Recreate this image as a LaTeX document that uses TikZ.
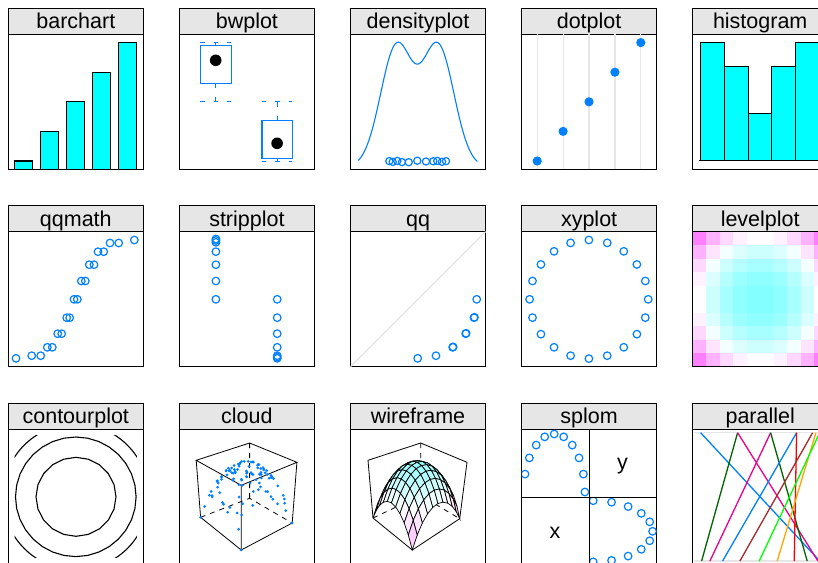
\documentclass[tikz,border=0pt]{standalone}
\usepackage{fontspec}
\setmainfont{Liberation Sans}
\usetikzlibrary{positioning}

\definecolor{stripbg}{HTML}{E6E6E6}
\definecolor{ptblue}{HTML}{0080FF}
\definecolor{barcyan}{HTML}{00FFFF}
\definecolor{refgray}{HTML}{E6E6E6}
\definecolor{dkgreen}{HTML}{006400}
\definecolor{brn}{HTML}{A52A2A}
\definecolor{orng}{HTML}{FFA500}
\definecolor{grn}{HTML}{00FF00}

% box corners: bottom a (left), b (back), c (right), d (front); top A B C D
\newcommand\boxlow[8]{\def\qax{#1}\def\qay{#2}\def\qbx{#3}\def\qby{#4}\def\qcx{#5}\def\qcy{#6}\def\qdx{#7}\def\qdy{#8}}
\newcommand\boxhigh[8]{\def\Qax{#1}\def\Qay{#2}\def\Qbx{#3}\def\Qby{#4}\def\Qcx{#5}\def\Qcy{#6}\def\Qdx{#7}\def\Qdy{#8}}
\newcommand\boxpt[3]{%
  \pgfmathsetmacro\px{(1-#3)*((1-#1)*(1-#2)*\qax+#1*(1-#2)*\qdx+(1-#1)*#2*\qbx+#1*#2*\qcx)+#3*((1-#1)*(1-#2)*\Qax+#1*(1-#2)*\Qdx+(1-#1)*#2*\Qbx+#1*#2*\Qcx)}%
  \pgfmathsetmacro\py{(1-#3)*((1-#1)*(1-#2)*\qay+#1*(1-#2)*\qdy+(1-#1)*#2*\qby+#1*#2*\qcy)+#3*((1-#1)*(1-#2)*\Qay+#1*(1-#2)*\Qdy+(1-#1)*#2*\Qby+#1*#2*\Qcy)}}
% point on the dome z = 1-(x^2+y^2)/2
\newcommand\domept[2]{%
  \pgfmathsetmacro\dw{1-((2*#1-1)*(2*#1-1)+(2*#2-1)*(2*#2-1))/2}%
  \boxpt{#1}{#2}{\dw}}

\tikzset{
  strip/.style={draw, fill=stripbg, line width=1.1pt, minimum width=135pt, minimum height=26pt,
    text height=17pt, text depth=2pt, inner sep=0pt, outer sep=0pt,
    font=\fontsize{21.5pt}{24pt}\selectfont},
  pbox/.style={draw, line width=1.1pt, minimum width=135pt, minimum height=135pt,
    inner sep=0pt, outer sep=0pt},
  frm/.style={line width=1.1pt},
  bar/.style={draw=black, fill=barcyan, line width=1.1pt},
  ring/.style={draw=ptblue, line width=1.2pt},
  whisk/.style={ptblue, line width=1.1pt, dash pattern=on 4.5pt off 9pt},
  cline/.style={line width=1.1pt},
  edge/.style={line width=0.8pt},
  hidden/.style={line width=0.8pt, dash pattern=on 5pt off 5pt},
  lbl/.style={font=\fontsize{21.5pt}{24pt}\selectfont, inner sep=0pt},
  pline/.style={line width=1.3pt}
}

\begin{document}
\begin{tikzpicture}[x=1pt, y=-1pt]
  \useasboundingbox (0,0) rectangle (818,562);
  \clip (0,0) rectangle (818,562);
  \fill[white] (0,0) rectangle (818,562);

  \foreach \ttl/\cx/\cy in {barchart/75.8/21.3, bwplot/246.9/21.3, densityplot/418/21.3,
      dotplot/589.1/21.3, histogram/760.2/21.3,
      qqmath/75.8/218.7, stripplot/246.9/218.7, qq/418/218.7, xyplot/589.1/218.7, levelplot/760.2/218.7,
      contourplot/75.8/416.3, cloud/246.9/416.3, wireframe/418/416.3, splom/589.1/416.3, parallel/760.2/416.3}{
    \node[strip] (s-\ttl) at (\cx,\cy) {\ttl};
    \node[pbox, below=0pt of s-\ttl] (p-\ttl) {};
  }

  % barchart
  \begin{scope}[shift={(p-barchart.north west)}]
    \foreach \i in {0,...,4}
      \draw[bar] (6.4+26*\i,135) rectangle ++(17.6,-8.3-29.6*\i);
  \end{scope}

  % bwplot
  \begin{scope}[shift={(p-bwplot.north west)}]
    \draw[whisk] (36.3,11.4) -- (36.3,8.4) (20.8,8.4) -- (51.8,8.4);
    \draw[whisk] (36.3,49) -- (36.3,67) (20.8,67) -- (51.8,67);
    \draw[ptblue, line width=1.2pt] (20.8,11.4) rectangle (51.8,49);
    \fill (36.3,26) circle (5.8);
    \draw[whisk] (97.7,86) -- (97.7,67) (82.5,67) -- (112.8,67);
    \draw[whisk] (97.7,124) -- (97.7,127) (82.5,127) -- (112.8,127);
    \draw[ptblue, line width=1.2pt] (82.5,86) rectangle (112.8,124);
    \fill (97.7,109) circle (5.8);
  \end{scope}

  % densityplot
  \begin{scope}[shift={(p-densityplot.north west)}]
    \draw[ptblue, line width=1.1pt] plot[domain=7.8:126.8, samples=120]
      (\x,{126.7-118.3*(exp(-1*(\x-46)*(\x-46)/510)+exp(-1*(\x-87.6)*(\x-87.6)/510)-0.053)/0.981});
    \foreach \rx/\ry in {38.8/126.8, 42.2/127.6, 46.8/126.6, 51.5/127.8, 58.2/127.9, 66.8/126.4,
        75.5/127.2, 82.8/127, 86.8/126.6, 91.5/127.5, 95.5/126.9}
      \draw[ring] (\rx,\ry) circle (3.6);
  \end{scope}

  % dotplot
  \begin{scope}[shift={(p-dotplot.north west)}]
    \foreach \i in {0,...,4}{
      \draw[refgray, line width=1.2pt] (15.6+25.9*\i,0) -- (15.6+25.9*\i,135);
      \fill[ptblue] (15.6+25.9*\i,126.7-29.6*\i) circle (4.6);
    }
  \end{scope}

  % histogram
  \begin{scope}[shift={(p-histogram.north west)}]
    \foreach \h [count=\i from 0] in {5,4,2,4,5}
      \draw[bar] (8.2+23.67*\i,126.4) rectangle ++(23.67,-23.6*\h);
    \draw[frm] (6.5,126.4) -- (135,126.4);
  \end{scope}

  % qqmath
  \begin{scope}[shift={(p-qqmath.north west)}]
    \foreach \rx/\ry in {7.7/126.6, 23.4/124, 32.4/124, 39/115.6, 44/115.6, 49.4/102, 53.4/102,
        58.4/86, 61.4/86, 65.7/67.6, 69/67.6, 73/49.3, 77/49.3, 81/33, 85.7/33, 89.7/20, 95.4/20,
        101.7/11.3, 110.4/11.3, 126/8.3}
      \draw[ring] (\rx,\ry) circle (3.8);
  \end{scope}

  % stripplot
  \begin{scope}[shift={(p-stripplot.north west)}]
    \foreach \ry in {7.3,8.8,10.6,20,33,49.3,67.6}
      \draw[ring] (36.5,\ry) circle (3.8);
    \foreach \ry in {67.6,86,102,115.6,124,125.4,126.6}
      \draw[ring] (97.8,\ry) circle (3.8);
  \end{scope}

  % qq
  \begin{scope}[shift={(p-qq.north west)}]
    \draw[refgray, line width=1.2pt] (0,135) -- (135,0);
    \foreach \rx/\ry in {67.2/126.6, 85.5/124, 102.2/115.6, 102.6/115.2, 115.2/102, 115.6/101.6,
        123.5/86, 123.9/85.6, 126.2/67.6}
      \draw[ring] (\rx,\ry) circle (3.8);
  \end{scope}

  % xyplot
  \begin{scope}[shift={(p-xyplot.north west)}]
    \foreach \a in {0,18,...,342}
      \draw[ring] ({67.3+59.3*cos(\a)},{67.6-59.3*sin(\a)}) circle (3.8);
  \end{scope}

  % levelplot
  \begin{scope}[shift={(p-levelplot.north west)}]
    \foreach \i in {0,...,9}{
      \foreach \j in {0,...,9}{
        \pgfmathsetmacro\lv{((\i-4.5)*(\i-4.5)+(\j-4.5)*(\j-4.5))/40.5}
        \pgfmathsetmacro\lr{\lv<0.5 ? 0.5+\lv : 1}
        \pgfmathsetmacro\lg{\lv<0.5 ? 1 : 1.5-\lv}
        \definecolor{lvl}{rgb}{\lr,\lg,1}
        \fill[lvl] (13.5*\i,13.5*\j) rectangle ++(13.5,13.5);
      }
    }
    \draw[frm] (0,0) rectangle (135,135);
  \end{scope}

  % contourplot
  \begin{scope}[shift={(p-contourplot.north west)}]
    \clip (6.4,6.4) rectangle (128.6,128.6);
    \draw[cline] (67.5,67.5) circle (73);
    \draw[cline] plot[domain=0:360, samples=33] ({67.5+60.3*cos(\x)},{67.5+59.8*sin(\x)});
    \draw[cline] plot[domain=0:360, samples=21] ({67.7+40*cos(\x)},{67.5+39.5*sin(\x)});
  \end{scope}

  % cloud
  \begin{scope}[shift={(p-cloud.north west)}]
    \coordinate (cl-a) at (21.2,88);   \coordinate (cl-b) at (70.2,69);
    \coordinate (cl-c) at (112.8,93.7); \coordinate (cl-d) at (61.8,120.7);
    \coordinate (cl-A) at (16.8,31);   \coordinate (cl-B) at (70.2,13.7);
    \coordinate (cl-C) at (117.5,33);  \coordinate (cl-D) at (61.8,56);
    \draw[hidden] (cl-B) -- (cl-b) (cl-a) -- (cl-b) -- (cl-c);
    \draw[edge] (cl-A) -- (cl-B) -- (cl-C) -- (cl-D) -- cycle;
    \draw[edge] (cl-A) -- (cl-a) -- (cl-d) -- (cl-c) -- (cl-C) (cl-D) -- (cl-d);
    \boxlow{21.2}{88}{70.2}{69}{112.8}{93.7}{61.8}{120.7}
    \boxhigh{16.8}{31}{70.2}{13.7}{117.5}{33}{61.8}{56}
    \pgfmathsetseed{5}
    \foreach \k in {1,...,100}{
      \pgfmathsetmacro\cu{rnd}
      \pgfmathsetmacro\cv{rnd}
      \domept{\cu}{\cv}
      \fill[ptblue] (\px,\py) circle (1.5);
    }
    \foreach \cu/\cv in {0/0,1/0,1/1}{
      \domept{\cu}{\cv}
      \fill[ptblue] (\px,\py) circle (1.5);
    }
  \end{scope}

  % wireframe
  \begin{scope}[shift={(p-wireframe.north west)}]
    \coordinate (wf-a) at (22.5,88.7);  \coordinate (wf-b) at (70.2,66);
    \coordinate (wf-c) at (109.2,89.4); \coordinate (wf-d) at (61.8,120.7);
    \coordinate (wf-A) at (17.5,31);    \coordinate (wf-B) at (70.2,13.7);
    \coordinate (wf-C) at (116.5,33);
    \draw[hidden] (wf-B) -- (wf-b) (wf-a) -- (wf-b) -- (wf-c);
    \draw[edge] (wf-a) -- (wf-A) -- (wf-B) -- (wf-C) -- (wf-c) (wf-a) -- (wf-d) -- (wf-c);
    \boxlow{22.5}{88.7}{70.2}{66}{109.2}{89.4}{61.8}{120.7}
    \boxhigh{17.5}{31}{70.2}{13.7}{116.5}{33}{62}{54}
    \foreach \i in {0,...,9}{
      \foreach \j in {9,8,...,0}{
        \pgfmathsetmacro\ua{\i/10}\pgfmathsetmacro\ub{(\i+1)/10}
        \pgfmathsetmacro\va{\j/10}\pgfmathsetmacro\vb{(\j+1)/10}
        \domept{\ua}{\va}\let\wxa\px\let\wya\py
        \domept{\ub}{\va}\let\wxb\px\let\wyb\py
        \domept{\ub}{\vb}\let\wxc\px\let\wyc\py
        \domept{\ua}{\vb}\let\wxd\px\let\wyd\py
        \pgfmathsetmacro\ex{2*\ua+0.1-1}
        \pgfmathsetmacro\ey{2*\va+0.1-1}
        \pgfmathsetmacro\wc{1-((\ex)*(\ex)+(\ey)*(\ey))/2}
        \pgfmathsetmacro\fr{\wc>0.5 ? 1-(\wc-0.5)*0.8 : 1}
        \pgfmathsetmacro\fg{\wc<0.5 ? 1-(0.5-\wc)*0.6 : 1}
        \definecolor{facecol}{rgb}{\fr,\fg,1}
        \filldraw[fill=facecol, draw=black, line width=0.7pt]
          (\wxa,\wya) -- (\wxb,\wyb) -- (\wxc,\wyc) -- (\wxd,\wyd) -- cycle;
      }
    }
  \end{scope}

  % splom
  \begin{scope}[shift={(p-splom.north west)}]
    \begin{scope}
      \clip (0,0) rectangle (67.5,68);
      \foreach \a in {0,18,...,162}
        \draw[ring] ({32.6+30.7*cos(\a)},{62.7-58*sin(\a)}) circle (3.8);
    \end{scope}
    \begin{scope}
      \clip (67.5,68) rectangle (135,135);
      \foreach \a in {0,18,...,180}
        \draw[ring] ({71.6+59.4*sin(\a)},{102-30.6*cos(\a)}) circle (3.8);
    \end{scope}
    \draw[frm] (67.5,0) -- (67.5,135) (0,68) -- (135,68);
    \node[lbl] (sp-x) at (33.3,103.7) {x};
    \node[lbl] (sp-y) at (101,37) {y};
  \end{scope}

  % parallel
  \begin{scope}[shift={(p-parallel.north west)}]
    \draw[refgray, line width=1.2pt] (1,3.4) -- (134,3.4) (1,131.7) -- (134,131.7);
    \foreach \tx/\bx/\col in {7.9/127/ptblue, 44.9/8.9/dkgreen, 44.9/125.2/magenta,
        77.9/17.2/magenta, 77.9/114.5/dkgreen, 103.9/29.9/ptblue, 103.9/101.5/red,
        119.9/47.2/brn, 123.2/84.5/orng, 127/66.5/grn}
      \draw[pline, \col] (\tx,3.4) -- (\bx,131.7);
  \end{scope}
\end{tikzpicture}
\end{document}
